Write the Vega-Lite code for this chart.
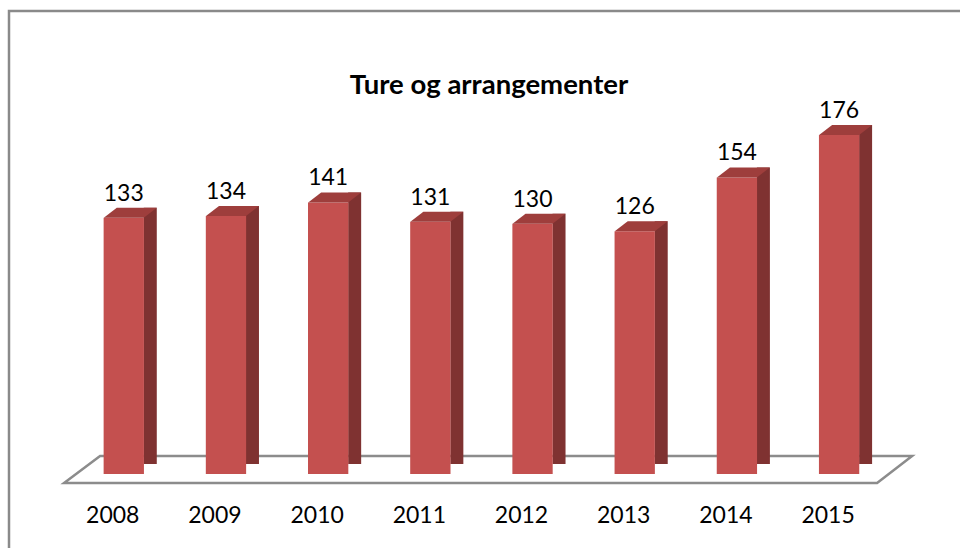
{
  "$schema": "https://vega.github.io/schema/vega-lite/v6.json",
  "autosize": {"type": "none"},
  "width": 960,
  "height": 548,
  "padding": {"left": 9, "top": 11, "right": -9, "bottom": -11},
  "background": "white",
  "view": {"stroke": "#8a8a8a", "strokeWidth": 2.5, "fill": "white"},
  "title": {
    "text": "Ture og arrangementer",
    "font": "Lato",
    "fontSize": 27.5,
    "fontWeight": "bold",
    "color": "#000000",
    "anchor": "middle",
    "frame": "group",
    "baseline": "alphabetic",
    "offset": 0,
    "dy": 110
  },
  "datasets": {
    "bars": [
      {"year": "2008", "value": 133},
      {"year": "2009", "value": 134},
      {"year": "2010", "value": 141},
      {"year": "2011", "value": 131},
      {"year": "2012", "value": 130},
      {"year": "2013", "value": 126},
      {"year": "2014", "value": 154},
      {"year": "2015", "value": 176}
    ],
    "floor": [
      {"year": "2011", "value": 0}
    ]
  },
  "data": {"name": "bars"},
  "encoding": {
    "x": {
      "field": "year",
      "type": "ordinal",
      "scale": {"paddingInner": 0.6055, "paddingOuter": 1.079, "align": 0.463},
      "axis": {
        "orient": "bottom",
        "offset": -41,
        "domain": false,
        "ticks": false,
        "title": null,
        "labelAngle": 0,
        "labelFont": "Lato",
        "labelFontSize": 23,
        "labelColor": "#000000",
        "labelBaseline": "alphabetic",
        "labelOffset": -11,
        "labelPadding": 4
      }
    },
    "y": {
      "field": "value",
      "type": "quantitative",
      "axis": null,
      "scale": {"domain": [-44.13, 240.4], "nice": false, "zero": false}
    }
  },
  "layer": [
    {
      "data": {"name": "floor"},
      "mark": {
        "type": "point",
        "shape": "M -0.9428 0.03 L 0.8639 0.03 L 0.9417 -0.03 L -0.8628 -0.03 Z",
        "size": 810000,
        "filled": true,
        "fill": "white",
        "fillOpacity": 1,
        "stroke": "#8c8c8c",
        "strokeWidth": 2.5,
        "strokeOpacity": 1,
        "opacity": 1,
        "xOffset": 58,
        "yOffset": -4.5
      }
    },
    {
      "mark": {"type": "bar", "width": 13, "xOffset": 26.5, "yOffset": -10, "y2Offset": -5, "color": "#7f3231"}
    },
    {
      "mark": {"type": "bar", "color": "#c4504f"}
    },
    {
      "mark": {
        "type": "point",
        "shape": "M -0.5 0 L 0.5 0 L 0.825 -0.25 L -0.175 -0.25 Z",
        "size": 6400,
        "filled": true,
        "color": "#9e3e3c",
        "opacity": 1,
        "strokeWidth": 0
      }
    },
    {
      "mark": {"type": "text", "font": "Lato", "fontSize": 23, "color": "#000000", "baseline": "alphabetic", "dy": -17},
      "encoding": {
        "text": {"field": "value", "type": "quantitative"}
      }
    }
  ]
}
